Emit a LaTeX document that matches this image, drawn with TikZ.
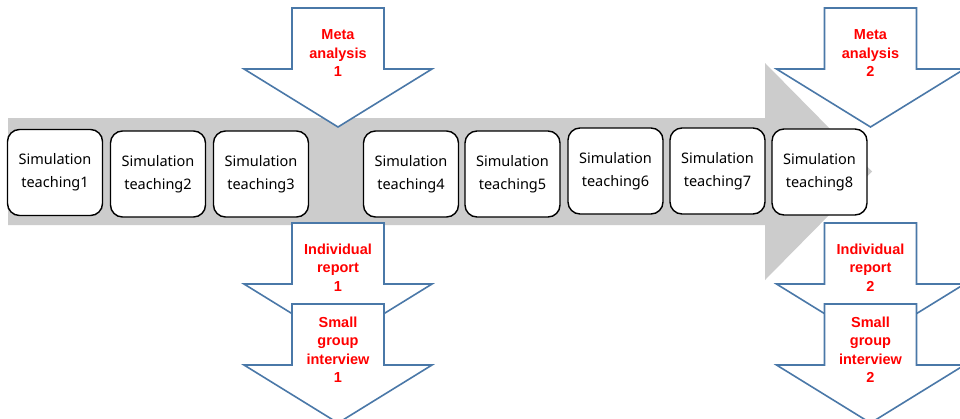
\documentclass[tikz,border=0pt]{standalone}
\usepackage{fontspec}
\setmainfont{Noto Sans}
\newfontfamily\labelfont{Liberation Sans}
\definecolor{arrowgray}{HTML}{CCCCCC}
\definecolor{arrowblue}{HTML}{4A78A8}
\begin{document}
\begin{tikzpicture}[x=1pt,y=-1pt,
  simbox/.style={draw=black,line width=1.4pt,fill=white,rounded corners=12pt,
    minimum width=95pt,minimum height=86pt,inner sep=0pt,align=center,
    font=\fontsize{14.5}{23}\selectfont},
  redlabel/.style={text=red,align=center,inner sep=0pt,
    font=\labelfont\bfseries\fontsize{14.5}{18.5}\selectfont},
  blockarrow/.style={draw=arrowblue,line width=1.6pt,fill=white,line join=miter},
  downarrow/.pic={\draw[blockarrow] (-46,0) -- (46,0) -- (46,61) -- (94,61) -- (0,119) -- (-94,61) -- (-46,61) -- cycle;}
]
\useasboundingbox (0,0) rectangle (960,418);
\fill[white] (0,0) rectangle (960,418);
% big gray arrow
\fill[arrowgray] (8,118) -- (765,118) -- (765,63) -- (872,171.5) -- (765,280) -- (765,225) -- (8,225) -- cycle;
% boxes
\node[simbox] (s1) at (55,172.5) {Simulation\\teaching1};
\node[simbox] (s2) at (158,174) {Simulation\\teaching2};
\node[simbox] (s3) at (261,174) {Simulation\\teaching3};
\node[simbox] (s4) at (411,174) {Simulation\\teaching4};
\node[simbox] (s5) at (512.5,174) {Simulation\\teaching5};
\node[simbox] (s6) at (615.5,171) {Simulation\\teaching6};
\node[simbox] (s7) at (717.5,171) {Simulation\\teaching7};
\node[simbox] (s8) at (819.5,172) {Simulation\\teaching8};
% block arrows
\pic at (338,8) {downarrow};
\pic at (338,223) {downarrow};
\pic at (338,304) {downarrow};
\pic at (870.5,8) {downarrow};
\pic at (870.5,223) {downarrow};
\pic at (870.5,304) {downarrow};
% labels
\node[redlabel] (ma1) at (338,53.5) {Meta\\analysis\\1};
\node[redlabel] (ir1) at (338,267.5) {Individual\\report\\1};
\node[redlabel] (sg1) at (338,349.5) {Small\\group\\interview\\1};
\node[redlabel] (ma2) at (870.5,53.5) {Meta\\analysis\\2};
\node[redlabel] (ir2) at (870.5,267.5) {Individual\\report\\2};
\node[redlabel] (sg2) at (870.5,349.5) {Small\\group\\interview\\2};
\end{tikzpicture}
\end{document}
